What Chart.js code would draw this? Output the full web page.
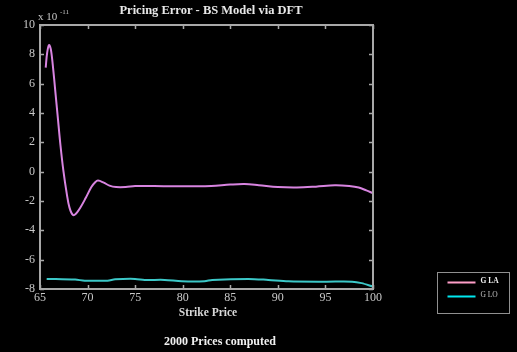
<!DOCTYPE html>
<html>
<head>
<meta charset="utf-8">
<script src="https://cdn.jsdelivr.net/npm/chart.js@4/dist/chart.umd.min.js"></script>
<style>
  html, body { margin: 0; padding: 0; background: #000; }
  #wrap { width: 517px; height: 352px; }
</style>
</head>
<body>
<div id="wrap"><canvas id="c" width="517" height="352"></canvas></div>
<script>
// Strike prices and pricing errors (units of 1e-11)
const laStrikes = [65.6, 65.75, 65.95, 66.15, 66.4, 66.65, 66.9, 67.15, 67.45, 67.8, 68.1, 68.47, 68.8, 69.2, 69.8, 70.4, 70.8, 71.1, 71.7, 72.3, 73.0, 74.0, 75.0, 77.0, 79.0, 81.0, 83.0, 85.0, 86.5, 88.0, 90.0, 92.0, 94.0, 96.0, 97.5, 98.5, 99.3, 100];
const laErrors  = [7.1, 8.1, 8.64, 8.3, 6.9, 5.2, 3.5, 1.8, 0.1, -1.45, -2.45, -2.96, -2.85, -2.5, -1.8, -1.05, -0.72, -0.61, -0.75, -0.95, -1.05, -1.05, -0.98, -0.98, -1.0, -1.0, -0.98, -0.88, -0.84, -0.92, -1.05, -1.08, -1.02, -0.93, -0.98, -1.08, -1.28, -1.47];

const loStrikes = [65.7, 68.7, 69.7, 72.1, 72.9, 75.0, 76.0, 78.1, 79.9, 82.3, 83.1, 86.9, 89.0, 91.1, 95.0, 97.8, 98.8, 100];
const loErrors  = [-7.31, -7.36, -7.43, -7.43, -7.34, -7.31, -7.38, -7.38, -7.47, -7.47, -7.38, -7.31, -7.38, -7.47, -7.5, -7.5, -7.6, -7.84];

const seriesNames = ['G LA', 'G LO'];
const titleText = 'Pricing Error - BS Model via DFT';
const xLabel = 'Strike Price';
const footText = '2000 Prices computed';
const xTicks = [65, 70, 75, 80, 85, 90, 95, 100];
const yTicks = [-8, -6, -4, -2, 0, 2, 4, 6, 8, 10];

const toPoints = (xs, ys) => xs.map((x, i) => ({ x: x, y: ys[i] }));

const AXIS = '#a8a8a8';
const TEXT = '#c8c8c8';
const SERIF = '"Liberation Serif", "DejaVu Serif", serif';

// Box frame, inward ticks, annotations and legend
const decor = {
  id: 'decor',
  afterDraw(chart) {
    const { ctx, chartArea: a, scales: { x, y } } = chart;
    ctx.save();
    ctx.strokeStyle = AXIS;
    ctx.lineWidth = 2;
    ctx.strokeRect(a.left, a.top, a.right - a.left, a.bottom - a.top);
    ctx.lineWidth = 1.5;
    const t = 4;
    xTicks.forEach(v => {
      const px = Math.round(x.getPixelForValue(v)) + 0.5;
      ctx.beginPath();
      ctx.moveTo(px, a.bottom); ctx.lineTo(px, a.bottom - t);
      ctx.moveTo(px, a.top); ctx.lineTo(px, a.top + t);
      ctx.stroke();
    });
    yTicks.forEach(v => {
      const py = Math.round(y.getPixelForValue(v)) + 0.5;
      ctx.beginPath();
      ctx.moveTo(a.left, py); ctx.lineTo(a.left + t, py);
      ctx.moveTo(a.right, py); ctx.lineTo(a.right - t, py);
      ctx.stroke();
    });

    // title
    ctx.fillStyle = '#e8e8e8';
    ctx.textAlign = 'center';
    ctx.textBaseline = 'middle';
    ctx.font = 'bold 12.5px ' + SERIF;
    ctx.fillText(titleText, 211, 11);

    // exponent marker
    ctx.fillStyle = TEXT;
    ctx.textAlign = 'left';
    ctx.font = '11px ' + SERIF;
    ctx.fillText('x 10', 38, 17);
    ctx.font = '7px ' + SERIF;
    ctx.fillText('-11', 60, 12);

    // axis label
    ctx.textAlign = 'center';
    ctx.fillStyle = '#d8d8d8';
    ctx.font = 'bold 11.5px ' + SERIF;
    ctx.fillText(xLabel, 208, 313);

    // footer
    ctx.fillStyle = '#f0f0f0';
    ctx.font = 'bold 12px ' + SERIF;
    ctx.fillText(footText, 220, 342);

    // legend
    const lx = 437.5, ly = 272.5, lw = 72, lh = 41;
    ctx.strokeStyle = '#909090';
    ctx.lineWidth = 1;
    ctx.strokeRect(lx, ly, lw, lh);
    const legendColors = ['#ff9ec8', '#00e8f0'];
    const textColors = ['#f0f0f0', '#c0c0c0'];
    seriesNames.forEach((name, i) => {
      const yy = ly + 10 + i * 14;
      ctx.strokeStyle = legendColors[i];
      ctx.lineWidth = 2;
      ctx.beginPath();
      ctx.moveTo(lx + 10, yy); ctx.lineTo(lx + 38, yy);
      ctx.stroke();
      ctx.fillStyle = textColors[i];
      ctx.textAlign = 'left';
      ctx.font = (i === 0 ? 'bold ' : '') + '7.5px ' + SERIF;
      ctx.fillText(name, lx + 43, yy - 1);
    });
    ctx.restore();
  }
};

new Chart(document.getElementById('c'), {
  type: 'scatter',
  data: {
    datasets: [
      {
        label: seriesNames[0],
        data: toPoints(laStrikes, laErrors),
        showLine: true,
        borderColor: '#d884e0',
        borderWidth: 2,
        pointRadius: 0,
        tension: 0.35
      },
      {
        label: seriesNames[1],
        data: toPoints(loStrikes, loErrors),
        showLine: true,
        borderColor: '#3cc8c8',
        borderWidth: 2,
        pointRadius: 0,
        tension: 0.3
      }
    ]
  },
  options: {
    responsive: false,
    animation: false,
    layout: { padding: { left: 0, right: 144, top: 25, bottom: 43 } },
    plugins: { legend: { display: false }, title: { display: false }, tooltip: { enabled: false } },
    scales: {
      x: {
        type: 'linear',
        min: 65, max: 100,
        afterBuildTicks: s => { s.ticks = xTicks.map(v => ({ value: v })); },
        afterFit: s => { s.height = 20; },
        grid: { display: false, drawTicks: false },
        border: { display: false },
        ticks: { color: TEXT, font: { family: SERIF, size: 12 }, padding: 2, maxRotation: 0 }
      },
      y: {
        min: -8, max: 10,
        afterBuildTicks: s => { s.ticks = yTicks.map(v => ({ value: v })); },
        afterFit: s => { s.width = 40; },
        grid: { display: false, drawTicks: false },
        border: { display: false },
        ticks: { color: TEXT, font: { family: SERIF, size: 12 }, padding: 5 }
      }
    }
  },
  plugins: [decor]
});
</script>
</body>
</html>
